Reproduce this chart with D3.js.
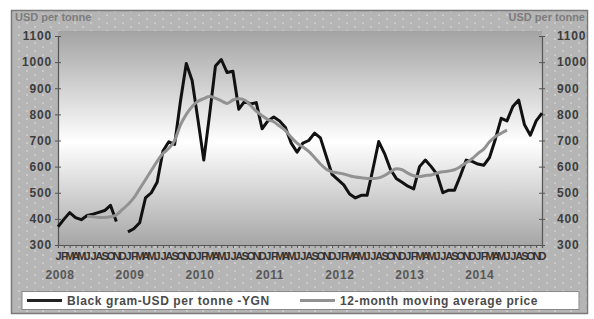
<!DOCTYPE html>
<html>
<head>
<meta charset="utf-8">
<script src="https://cdn.jsdelivr.net/npm/d3@7"></script>
<style>
  body { margin: 0; background: #fff; }
  text { font-family: "Liberation Sans", Arial, sans-serif; }
</style>
</head>
<body>
<script>
// datos: enero 2008 - diciembre 2014
var years = [2008, 2009, 2010, 2011, 2012, 2013, 2014]
var monthLetters = ["J","F","M","A","M","J","J","A","S","O","N","D"]
var yTicks = [300, 400, 500, 600, 700, 800, 900, 1000, 1100]

var blackGram = [
  370, 398, 424, 405, 397, 413, 418, 425, 432, 452, 390, null,
  350, 362, 385, 480, 500, 540, 660, 695, 685, 850, 995, 930,
  780, 625, 800, 985, 1010, 960, 965, 820, 850, 840, 845, 745,
  775, 790, 775, 750, 690, 655, 690, 700, 728, 710, 640, 570,
  550, 530, 495, 480, 490, 490, 590, 696, 650, 590, 555, 540,
  525, 515, 600, 625, 600, 570, 500, 510, 510, 565, 625, 620,
  610, 605, 635, 705, 785, 775, 830, 855, 760, 720, 775, 805
]

var movingAvg = [
  null, null, null, null, null, 410, 408, 405, 405, 408, 415, 435,
  455, 480, 515, 550, 585, 620, 650, 670, 700, 760, 800, 830,
  850, 860, 868, 862, 852, 842, 855, 860, 855, 835, 812, 795,
  780, 772, 755, 738, 712, 690, 675, 658, 635, 610, 590, 580,
  576, 572, 565, 560, 557, 555, 555, 557, 566, 580, 592, 588,
  575, 565, 562, 566, 568, 575, 580, 583, 588, 600, 615, 630,
  650, 667, 695, 715, 728, 740, null, null, null, null, null, null
]

var width = 594
var height = 319

var margin = { top: 36, botton: 74, left: 58, right: 52 }

var months = d3.range(years.length * 12)

var escalaX = d3.scalePoint()
    .domain(months)
    .range([margin.left, width - margin.right])

var escalaY = d3.scaleLinear()
    .domain([300, 1100])
    .range([height - margin.botton, margin.top])

var svg = d3.select("body")
    .append("svg")
    .attr("width", width)
    .attr("height", height)

var defs = svg.append("defs")

// fondo punteado
var pat = defs.append("pattern")
    .attr("id", "puntos")
    .attr("width", 16)
    .attr("height", 8)
    .attr("patternUnits", "userSpaceOnUse")
pat.append("rect").attr("width", 16).attr("height", 8).attr("fill", "#b5b5b5")
pat.append("rect").attr("x", 2).attr("y", 2).attr("width", 2).attr("height", 2).attr("fill", "#cacaca")
pat.append("rect").attr("x", 10).attr("y", 6).attr("width", 2).attr("height", 2).attr("fill", "#cacaca")

var grad = defs.append("linearGradient")
    .attr("id", "degradado")
    .attr("x1", 0).attr("y1", 0).attr("x2", 0).attr("y2", 1)
grad.append("stop").attr("offset", "0%").attr("stop-color", "#a3a3a3")
grad.append("stop").attr("offset", "52%").attr("stop-color", "#ffffff")
grad.append("stop").attr("offset", "100%").attr("stop-color", "#a6a6a6")

svg.append("rect")
    .attr("x", 11.5).attr("y", 10.5)
    .attr("width", 576).attr("height", 303)
    .attr("fill", "url(#puntos)")
    .attr("stroke", "#7a7a7a")
    .attr("stroke-width", 1.5)

var plotTop = 31
svg.append("rect")
    .attr("x", margin.left)
    .attr("y", plotTop)
    .attr("width", width - margin.right - margin.left)
    .attr("height", escalaY(300) - plotTop)
    .attr("fill", "url(#degradado)")

// titulos de eje
svg.append("text")
    .attr("x", 15).attr("y", 21)
    .attr("font-size", 11).attr("font-weight", "bold")
    .attr("fill", "#7c7c7c")
    .text("USD per tonne")
svg.append("text")
    .attr("x", 585).attr("y", 21)
    .attr("text-anchor", "end")
    .attr("font-size", 11).attr("font-weight", "bold")
    .attr("fill", "#7c7c7c")
    .text("USD per tonne")

// EJES Y
var ejeYIzq = d3.axisLeft(escalaY).tickValues(yTicks).tickFormat(d3.format("d")).tickSize(3).tickPadding(5)
var gIzq = svg.append("g")
    .attr("transform", "translate(" + margin.left + ",0)")
    .call(ejeYIzq)

var ejeYDer = d3.axisRight(escalaY).tickValues(yTicks).tickFormat(d3.format("d")).tickSize(3).tickPadding(12)
var gDer = svg.append("g")
    .attr("transform", "translate(" + (width - margin.right) + ",0)")
    .call(ejeYDer)

;[gIzq, gDer].forEach(function (g) {
    g.select(".domain").attr("stroke", "#555").attr("stroke-width", 1.2)
    g.selectAll(".tick line").attr("stroke", "#555").attr("x1", -3).attr("x2", 3)
    g.selectAll(".tick text")
        .attr("font-size", 12).attr("font-weight", "bold")
        .attr("fill", "#3d3d3d")
        .attr("letter-spacing", 0.8)
        .attr("font-family", "Liberation Sans, Arial, sans-serif")
})
gIzq.selectAll(".tick text").attr("x", -6)

// EJE X
var ejeX = d3.axisBottom(escalaX)
    .tickSize(3)
    .tickPadding(4)
    .tickFormat(function (d) { return monthLetters[d % 12] })

var gX = svg.append("g")
    .attr("transform", "translate(0," + escalaY(300) + ")")
    .call(ejeX)
gX.select(".domain").attr("stroke", "#555").attr("stroke-width", 1.2)
gX.selectAll(".tick line").attr("stroke", "#555")
gX.selectAll(".tick text")
    .attr("font-size", 11).attr("font-weight", "bold")
    .attr("fill", "#333")
    .attr("font-family", "Liberation Sans, Arial, sans-serif")

svg.append("g")
    .selectAll("text")
    .data(years)
    .enter()
    .append("text")
    .attr("x", (d, i) => escalaX(i * 12) + 2)
    .attr("y", 279)
    .attr("text-anchor", "middle")
    .attr("font-size", 12).attr("font-weight", "bold")
    .attr("fill", "#585858")
    .attr("letter-spacing", 0.6)
    .text(d => d)

// LINEAS
var linea = d3.line()
    .defined(d => d !== null)
    .x((d, i) => escalaX(i))
    .y(d => escalaY(d))

var lineaMedia = d3.line()
    .defined(d => d !== null)
    .x((d, i) => escalaX(i))
    .y(d => escalaY(d))
    .curve(d3.curveMonotoneX)

svg.append("path")
    .datum(blackGram)
    .attr("d", linea)
    .attr("fill", "none")
    .attr("stroke", "#111")
    .attr("stroke-width", 3)
    .attr("stroke-linejoin", "round")

svg.append("path")
    .datum(movingAvg)
    .attr("d", lineaMedia)
    .attr("fill", "none")
    .attr("stroke", "#929292")
    .attr("stroke-width", 3)
    .attr("stroke-linejoin", "round")

// LEYENDA
var leyenda = svg.append("g")
leyenda.append("rect")
    .attr("x", 22).attr("y", 291.5)
    .attr("width", 557).attr("height", 18)
    .attr("fill", "#fff")
    .attr("stroke", "#888")

var items = [
    { nombre: "Black gram-USD per tonne -YGN", color: "#222", x: 27 },
    { nombre: "12-month moving average price", color: "#929292", x: 300 }
]
items.forEach(function (it) {
    leyenda.append("line")
        .attr("x1", it.x).attr("x2", it.x + 35)
        .attr("y1", 300.5).attr("y2", 300.5)
        .attr("stroke", it.color).attr("stroke-width", 3)
    leyenda.append("text")
        .attr("x", it.x + 40).attr("y", 305)
        .attr("font-size", 12).attr("font-weight", "bold")
        .attr("fill", "#4a4a4a")
        .attr("letter-spacing", 0.6)
        .text(it.nombre)
})
</script>
</body>
</html>
